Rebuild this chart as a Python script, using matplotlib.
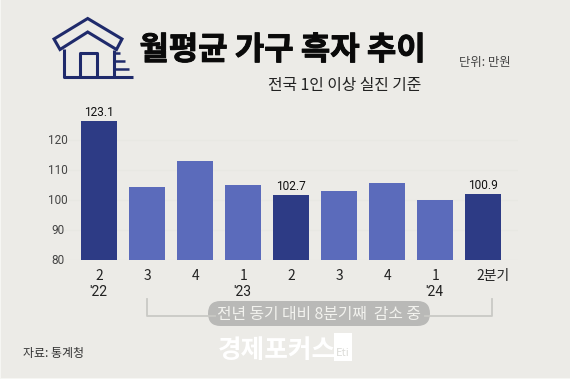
import matplotlib
matplotlib.use('Agg')
import matplotlib.pyplot as plt
import matplotlib.patheffects as pe
from matplotlib.patches import FancyBboxPatch, Polygon, Rectangle
from matplotlib.transforms import ScaledTranslation

plt.rcParams['font.family'] = ['Noto Sans CJK KR', 'DejaVu Sans']

# bar heights as drawn against the axis ticks, labels as printed
quarters = ['2', '3', '4', '1', '2', '3', '4', '1', '2분기']
years = ["'22", '', '', "'23", '', '', '', "'24", '']
heights = [126.3, 104.3, 113.0, 105.2, 101.8, 103.2, 105.9, 100.2, 102.1]
labels = ['123.1', '', '', '', '102.7', '', '', '', '100.9']
highlight = [True, False, False, False, True, False, False, False, True]
yticks = [80, 90, 100, 110, 120]

BG = '#ecebe7'
DARK = '#2d3b85'
LIGHT = '#5b6bbb'
NAVY = '#1f2a6b'
GREY = '#b9b9b7'
W, H = 570, 379

fig = plt.figure(figsize=(W / 100, H / 100), dpi=100, facecolor=BG)

# overlay in pixel coordinates for the title block and decorations
bg = fig.add_axes([0, 0, 1, 1])
bg.set_xlim(0, W)
bg.set_ylim(H, 0)
bg.axis('off')

# lighter edge of the image
bg.add_patch(Rectangle((0, 0), 1.2, H, fc='#f6f6f3', ec='none'))
bg.add_patch(Rectangle((0, H - 1.2), W, 1.2, fc='#f6f6f3', ec='none'))

# house icon
bg.add_patch(Polygon([(54, 39), (87.7, 18.5), (122, 39), (116.5, 49.5), (87.7, 32), (60, 49.5)],
                     closed=True, fc='none', ec=NAVY, lw=2.2, joinstyle='miter'))
bg.plot([63.5, 63.5, 133], [49, 77, 77], color=NAVY, lw=2.2, solid_capstyle='butt')
bg.plot([113.5, 113.5], [50, 77], color=NAVY, lw=2.2, solid_capstyle='butt')
bg.plot([80, 80, 97, 97], [77, 53, 53, 77], color=NAVY, lw=2.2, solid_capstyle='butt')
for y, x1 in [(52.5, 120), (60.7, 124.5), (68.7, 129)]:
    bg.plot([114, x1], [y, y], color=NAVY, lw=1.8, solid_capstyle='butt')

title = bg.text(282.5, 50.5, '월평균 가구 흑자 추이', fontsize=23, fontweight='bold', color='#0a0a0a',
                ha='center', va='center')
title.set_path_effects([pe.withStroke(linewidth=0.7, foreground='#0a0a0a')])
bg.text(344.5, 85.5, '전국 1인 이상 실진 기준', fontsize=11.4, color='#222222', ha='center', va='center')
bg.text(484.5, 62.5, '단위: 만원', fontsize=8.9, color='#444444', ha='center', va='center')
bg.text(23, 353, '자료: 통계청', fontsize=8.6, color='#333333', ha='left', va='center')

# bracket and pill
bg.plot([146.7, 146.7, 215], [299, 315.5, 315.5], color='#c9c9c5', lw=1.3)
bg.plot([491.7, 491.7, 425], [299, 315.5, 315.5], color='#c9c9c5', lw=1.3)
bg.add_patch(FancyBboxPatch((208, 301), 222, 25, boxstyle='round,pad=0,rounding_size=12.5',
                            fc=GREY, ec='none'))
bg.text(319, 314, '전년 동기 대비 8분기째  감소 중', fontsize=11.4, color='#f2f2ee',
        ha='center', va='center')

# watermark
bg.text(277, 350.5, '경제포커스', fontsize=18.5, fontweight='bold', color='#ffffff', ha='center', va='center')
bg.add_patch(Rectangle((334, 333), 18, 27.5, fc='#ffffff', ec='none'))
bg.text(343, 352.5, 'Eti', fontsize=8, color='#dcdcd8', ha='center', va='center')

# bar chart, 3 px per unit with 80 sitting at y=260.3
left_px, right_px = 57, 518
ax = fig.add_axes([left_px / W, 1 - 260.3 / H, (right_px - left_px) / W, 150 / H])
ax.set_facecolor('none')
ax.set_ylim(80, 130)
# one slot is 48 px, first bar centre at 99.15 px
ax.set_xlim((left_px - 99.15) / 48, (right_px - 99.15) / 48)
xs = list(range(len(heights)))
colors = [DARK if h else LIGHT for h in highlight]
ax.bar(xs, [h - 80 for h in heights], bottom=80, width=36.3 / 48, color=colors, zorder=3)
for x, h, lab in zip(xs, heights, labels):
    if lab:
        ax.text(x, h + 0.7, lab, fontsize=8.6, color='#111111', ha='center', va='bottom',
                family=['Roboto', 'DejaVu Sans'])

ax.set_yticks(yticks)
ax.set_yticklabels([str(t) for t in yticks], fontsize=8.5, color='#444444', family=['Roboto', 'DejaVu Sans'])
ax.tick_params(axis='y', length=0, pad=-0.7)
for lab in ax.get_yticklabels():
    lab.set_ha('center')
    lab.set_transform(lab.get_transform() + ScaledTranslation(0, 1 / 100, fig.dpi_scale_trans))
ax.grid(axis='y', color='#e8e8e3', lw=0.8, zorder=0)
ax.set_xticks(xs)
ax.set_xticklabels(quarters, fontsize=10, color='#222222')
ax.tick_params(axis='x', length=0, pad=6.5)
# the last label sits to the right of its bar
last = ax.get_xticklabels()[-1]
last.set_transform(last.get_transform() + ScaledTranslation(10 / 100, 0, fig.dpi_scale_trans))
for s in ax.spines.values():
    s.set_visible(False)
for x, yr in zip(xs, years):
    if yr:
        ax.annotate(yr, (x, 80), xytext=(-0.5, -22.5), textcoords='offset points', fontsize=10,
                    color='#222222', ha='center', va='center', family=['Roboto', 'DejaVu Sans'])

fig.savefig('out.png', dpi=100, facecolor=BG)
